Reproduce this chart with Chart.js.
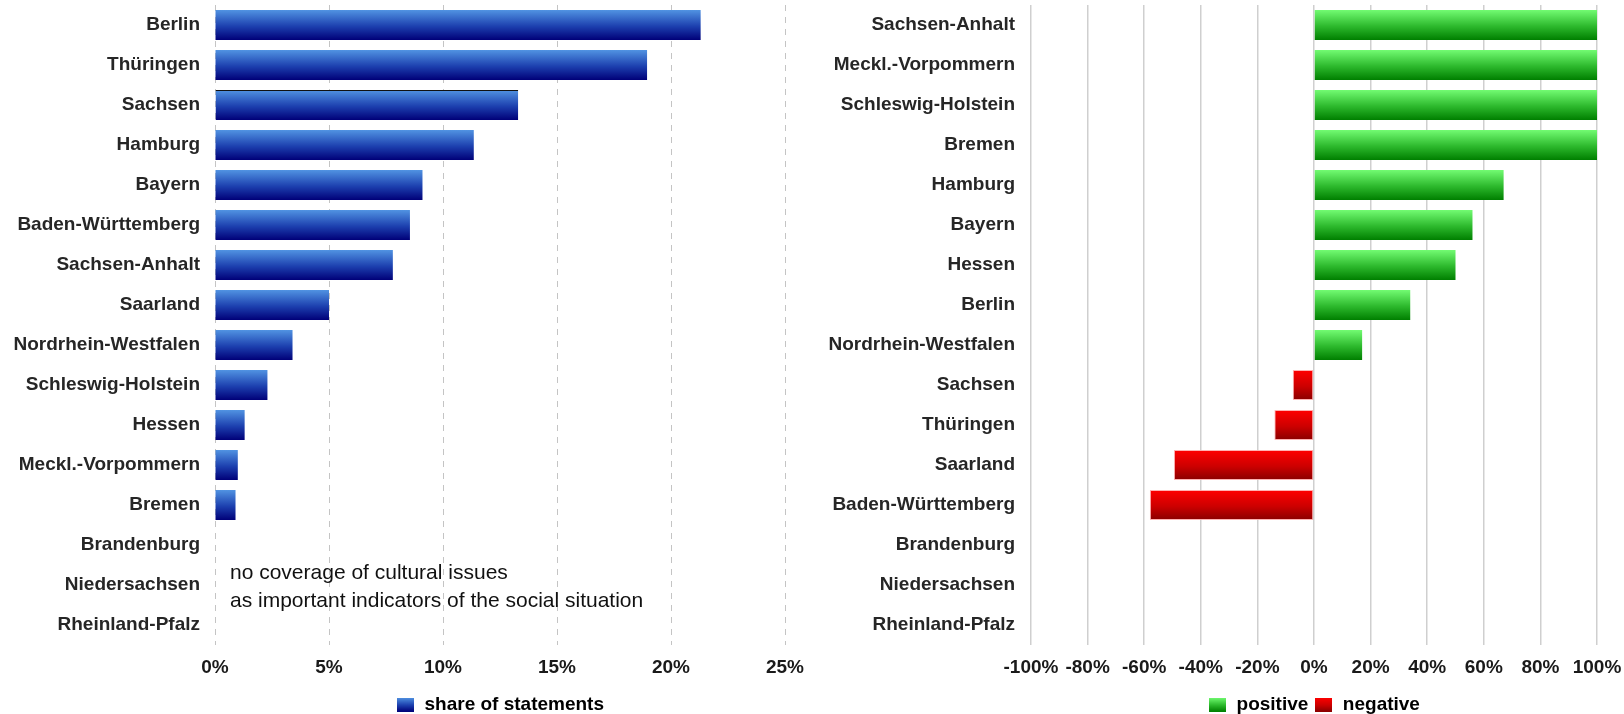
<!DOCTYPE html>
<html>
<head>
<meta charset="utf-8">
<script src="https://cdn.jsdelivr.net/npm/chart.js@4.4.1/dist/chart.umd.min.js"></script>
<style>
    html, body { margin: 0; padding: 0; background: #ffffff; overflow: hidden; }
    #wrap { position: relative; width: 1624px; height: 714px; overflow: hidden; }
    #shareChart { position: absolute; left: 0; top: 0; }
    #toneChart { position: absolute; left: 812px; top: 0; }
</style>
</head>
<body>
<div id="wrap">
    <canvas id="shareChart" width="812" height="724"></canvas>
    <canvas id="toneChart" width="812" height="724"></canvas>
</div>
<script>
// Share of statements per federal state (%)
const shareStates = [
    'Berlin', 'Thüringen', 'Sachsen', 'Hamburg', 'Bayern', 'Baden-Württemberg',
    'Sachsen-Anhalt', 'Saarland', 'Nordrhein-Westfalen', 'Schleswig-Holstein',
    'Hessen', 'Meckl.-Vorpommern', 'Bremen', 'Brandenburg', 'Niedersachsen', 'Rheinland-Pfalz'
];
const shareValues = [21.3, 18.95, 13.3, 11.35, 9.1, 8.55, 7.8, 5.0, 3.4, 2.3, 1.3, 1.0, 0.9, 0, 0, 0];
const shareTicks = [0, 5, 10, 15, 20, 25];
const noteLines = ['no coverage of cultural issues', 'as important indicators of the social situation'];

// Tone of statements per federal state (%)
const toneStates = [
    'Sachsen-Anhalt', 'Meckl.-Vorpommern', 'Schleswig-Holstein', 'Bremen', 'Hamburg', 'Bayern',
    'Hessen', 'Berlin', 'Nordrhein-Westfalen', 'Sachsen', 'Thüringen', 'Saarland',
    'Baden-Württemberg', 'Brandenburg', 'Niedersachsen', 'Rheinland-Pfalz'
];
const positiveValues = [100, 100, 100, 100, 67, 56, 50, 34, 17, null, null, null, null, null, null, null];
const negativeValues = [null, null, null, null, null, null, null, null, null, -7.5, -14, -49.5, -58, null, null, null];
const toneTicks = [-100, -80, -60, -40, -20, 0, 20, 40, 60, 80, 100];

const blueStops = ['#5193e2', '#1c3fae', '#000078'];
const greenStops = ['#72fb72', '#2cb82c', '#007f00'];
const redStops = ['#ff0000', '#cc0000', '#8a0000'];

const labelFont = { family: '"Liberation Sans", Arial, sans-serif', size: 19, weight: 'bold' };

/**
 * Vertical gradient per bar, taken from the category scale
 */
function barGradient(stops) {
    return function(context) {
        const chart = context.chart;
        const yScale = chart.scales.y;
        if (!yScale || context.dataIndex === undefined) return stops[1];
        const band = (yScale.bottom - yScale.top) / yScale.getLabels().length;
        const half = band * 0.375;
        const yc = yScale.getPixelForValue(context.dataIndex);
        const g = chart.ctx.createLinearGradient(0, yc - half, 0, yc + half);
        g.addColorStop(0, stops[0]);
        g.addColorStop(0.55, stops[1]);
        g.addColorStop(1, stops[2]);
        return g;
    };
}

/**
 * Small gradient swatch for the legend
 */
function legendSwatch(stops) {
    const c = document.createElement('canvas');
    c.width = 17;
    c.height = 14;
    const x = c.getContext('2d');
    const g = x.createLinearGradient(0, 0, 0, 14);
    g.addColorStop(0, stops[0]);
    g.addColorStop(0.55, stops[1]);
    g.addColorStop(1, stops[2]);
    x.fillStyle = g;
    x.fillRect(0, 0, 17, 14);
    return c;
}

function legendOptions(swatches) {
    return {
        position: 'bottom',
        fullSize: false,
        labels: {
            color: '#1a1a1a',
            font: labelFont,
            usePointStyle: true,
            padding: 6,
            generateLabels: function(chart) {
                return chart.data.datasets.map(function(ds, i) {
                    return {
                        text: ds.label,
                        pointStyle: swatches[i],
                        fillStyle: 'transparent',
                        strokeStyle: 'transparent',
                        lineWidth: 0,
                        datasetIndex: i
                    };
                });
            }
        }
    };
}

// keep the plot box where the reference has it
function fixYAxis(width) {
    return function(scale) {
        scale.width = width;
        scale.paddingTop = 0;
        scale.paddingBottom = 0;
    };
}

function fixXAxis(scale) {
    scale.height = 44;
    scale.paddingLeft = 0;
    scale.paddingRight = 0;
}

const notePlugin = {
    id: 'notePlugin',
    afterDraw: function(chart) {
        const x = chart.scales.x.getPixelForValue(0) + 15;
        const y = chart.scales.y;
        const c = chart.ctx;
        c.save();
        c.fillStyle = '#111111';
        c.font = '21px "Liberation Sans", Arial, sans-serif';
        c.textBaseline = 'middle';
        c.fillText(noteLines[0], x, y.getPixelForValue(13.7));
        c.fillText(noteLines[1], x, y.getPixelForValue(14.4));
        c.restore();
    }
};

function initShareChart() {
    const ctx = document.getElementById('shareChart');
    new Chart(ctx, {
        type: 'bar',
        data: {
            labels: shareStates,
            datasets: [{
                label: 'share of statements',
                data: shareValues,
                backgroundColor: barGradient(blueStops),
                // the Sachsen bar carries a thin dark top edge in the original
                borderColor: '#111111',
                borderWidth: function(c) {
                    return c.dataIndex === 2 ? { top: 1, right: 0, bottom: 0, left: 0 } : 0;
                },
                barPercentage: 0.75,
                categoryPercentage: 1
            }]
        },
        options: {
            responsive: false,
            animation: false,
            indexAxis: 'y',
            layout: { padding: { top: 5, right: 27, left: 0, bottom: 0 } },
            plugins: {
                legend: legendOptions([legendSwatch(blueStops)]),
                tooltip: { enabled: false }
            },
            scales: {
                x: {
                    min: 0,
                    max: 25,
                    afterBuildTicks: function(scale) {
                        scale.ticks = shareTicks.map(v => ({ value: v }));
                    },
                    afterFit: fixXAxis,
                    border: { display: false, dash: [6, 6] },
                    grid: { color: '#c4c4c4', drawTicks: false },
                    ticks: {
                        color: '#1a1a1a',
                        font: labelFont,
                        padding: 11,
                        maxRotation: 0,
                        minRotation: 0,
                        autoSkip: false,
                        callback: v => v + '%'
                    }
                },
                y: {
                    afterFit: fixYAxis(215),
                    border: { display: false },
                    grid: { display: false, drawTicks: false },
                    ticks: { color: '#262626', font: labelFont, padding: 15, autoSkip: false }
                }
            }
        },
        plugins: [notePlugin]
    });
}

function initToneChart() {
    const ctx = document.getElementById('toneChart');
    new Chart(ctx, {
        type: 'bar',
        data: {
            labels: toneStates,
            datasets: [{
                label: 'positive',
                data: positiveValues,
                backgroundColor: barGradient(greenStops),
                borderWidth: 0,
                barPercentage: 0.75,
                categoryPercentage: 1
            }, {
                label: 'negative',
                data: negativeValues,
                backgroundColor: barGradient(redStops),
                borderColor: 'rgba(255, 170, 170, 0.9)',
                borderWidth: 1,
                borderSkipped: false,
                barPercentage: 0.75,
                categoryPercentage: 1
            }]
        },
        options: {
            responsive: false,
            animation: false,
            indexAxis: 'y',
            layout: { padding: { top: 5, right: 27, left: 0, bottom: 0 } },
            plugins: {
                legend: legendOptions([legendSwatch(greenStops), legendSwatch(redStops)]),
                tooltip: { enabled: false }
            },
            scales: {
                x: {
                    stacked: true,
                    min: -100,
                    max: 100,
                    afterBuildTicks: function(scale) {
                        scale.ticks = toneTicks.map(v => ({ value: v }));
                    },
                    afterFit: fixXAxis,
                    border: { display: false },
                    grid: { color: '#cfcfcf', lineWidth: 1.5, drawTicks: false },
                    ticks: {
                        color: '#1a1a1a',
                        font: labelFont,
                        padding: 11,
                        maxRotation: 0,
                        minRotation: 0,
                        autoSkip: false,
                        callback: v => v + '%'
                    }
                },
                y: {
                    stacked: true,
                    afterFit: fixYAxis(219),
                    border: { display: false },
                    grid: { display: false, drawTicks: false },
                    ticks: { color: '#262626', font: labelFont, padding: 16, autoSkip: false }
                }
            }
        }
    });
}

Chart.defaults.font.family = '"Liberation Sans", Arial, sans-serif';
document.addEventListener('DOMContentLoaded', function() {
    initShareChart();
    initToneChart();
});
</script>
</body>
</html>
